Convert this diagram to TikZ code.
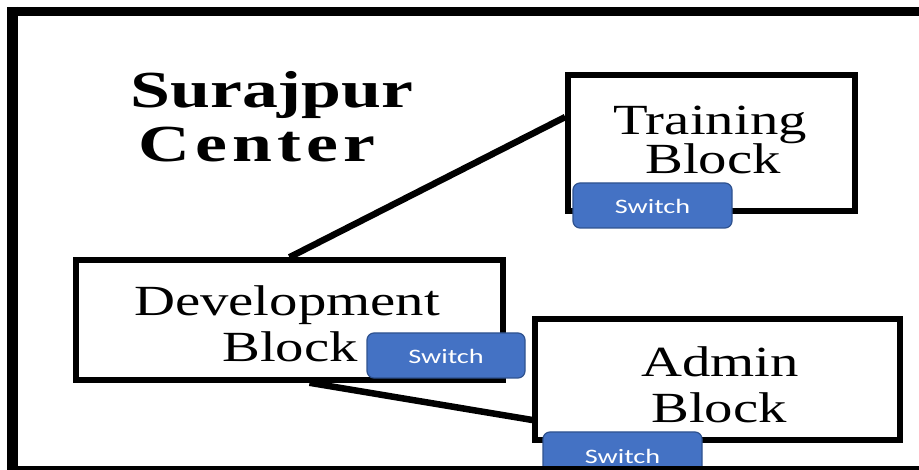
\documentclass[tikz,border=0pt]{standalone}
\usepackage{fontspec}
\setmainfont{Liberation Serif}
\newfontfamily\blockf{Liberation Serif}[FakeStretch=1.32]
\newfontfamily\titlef{Liberation Serif}[FakeStretch=1.38]
\newfontfamily\swf{Carlito}[FakeStretch=1.38]
\definecolor{swfill}{HTML}{4472C4}
\definecolor{swdraw}{HTML}{2F528F}
\begin{document}
\begin{tikzpicture}[x=1pt,y=-1pt,
  blk/.style={draw=black, line width=5.5pt, fill=white, shape=rectangle, inner sep=0pt},
  sw/.style={draw=swdraw, line width=1.2pt, fill=swfill, rounded corners=7pt, inner sep=0pt,
    text=white, font=\swf\fontsize{20.5}{20.5}\selectfont, text height=17pt, text depth=0pt},
  bt/.style={anchor=base, font=\blockf\fontsize{43}{43}\selectfont, inner sep=0pt},
  tt/.style={anchor=base, font=\titlef\bfseries\fontsize{52}{52}\selectfont, inner sep=0pt},
  link/.style={draw=black, line width=6.5pt}]
\useasboundingbox (0,0) rectangle (919,470);
\fill[white] (0,0) rectangle (919,470);
% title
\node[tt] (t1) at (272,108) {Surajpur};
\node[tt] (t2) at (257,162) {\addfontfeature{LetterSpace=10}Center};
% blocks
\node[blk, minimum width=427pt, minimum height=120pt] (dev) at (289.5,320) {};
\node[blk, minimum width=287pt, minimum height=136pt] (train) at (711.5,143) {};
\node[blk, minimum width=365pt, minimum height=121pt] (admin) at (717.5,379.5) {};
% connectors
\draw[link] (dev.north) -- ([yshift=26pt]train.west);
\draw[link] ([xshift=20pt]dev.south) -- ([yshift=-40.5pt]admin.west);
% block texts
\node[bt] (trainA) at (710,135) {Training};
\node[bt] (trainB) at (713,174) {Block};
\node[bt] (devA) at (287,316) {Development};
\node[bt] (devB) at (290,362) {Block};
\node[bt] (adminA) at (720,377) {Admin};
\node[bt] (adminB) at (719,423) {Block};
% switches
\node[sw, minimum width=159pt, minimum height=45pt] (swT) at (652.5,205.5) {Switch};
\node[sw, minimum width=158pt, minimum height=45pt] (swD) at (446,355.5) {Switch};
\node[sw, minimum width=159pt, minimum height=45pt] (swA) at (622.5,454.5) {Switch};
% outer frame
\draw[line width=9pt] (7,11.5) -- (919,11.5);
\draw[line width=5pt] (7,468) -- (919,468);
\draw[line width=11pt] (12.5,7) -- (12.5,470);
\end{tikzpicture}
\end{document}
